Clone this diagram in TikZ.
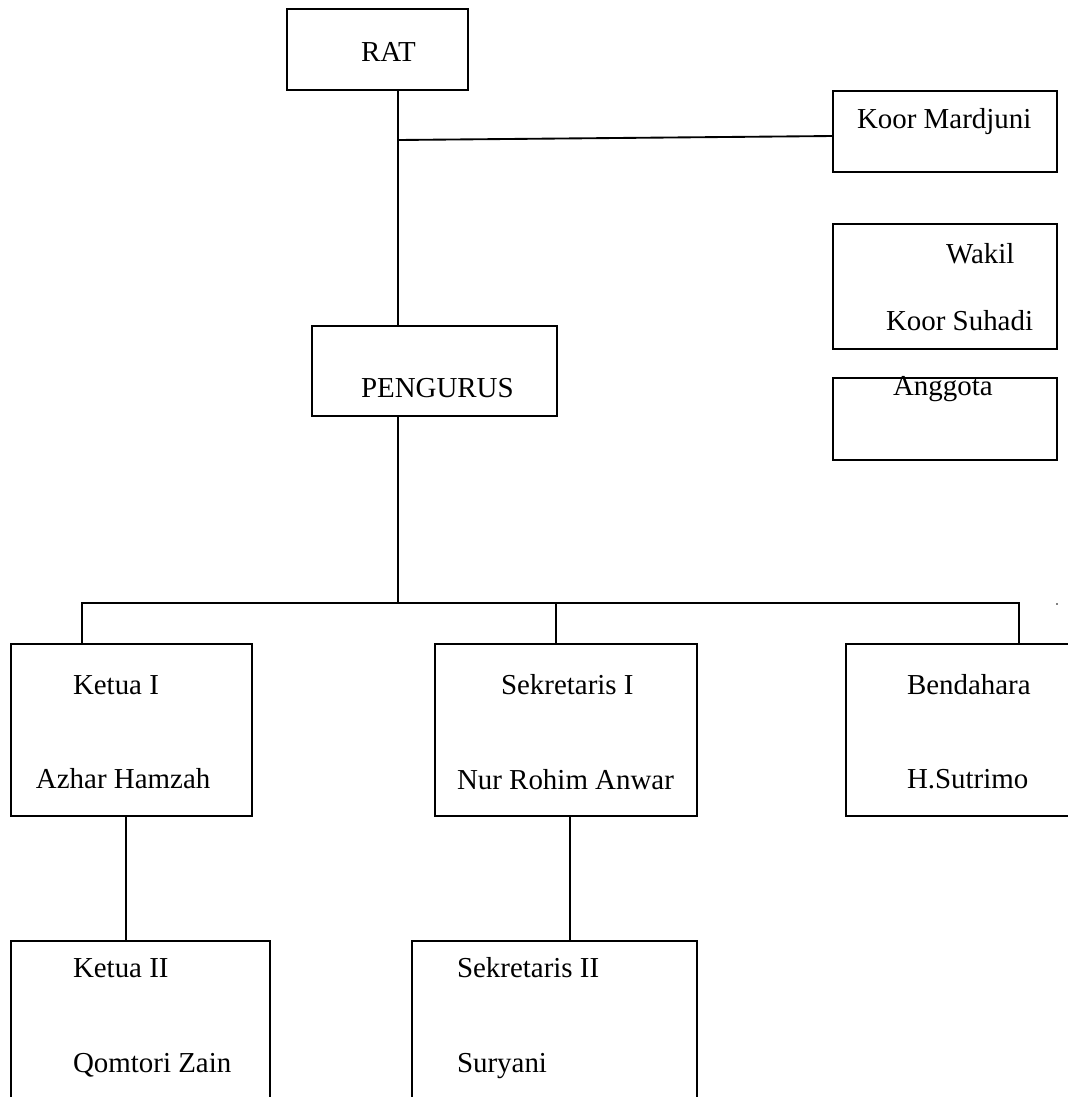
\documentclass[tikz,border=0pt]{standalone}
\usepackage{fontspec}
\setmainfont{Liberation Serif}
\usetikzlibrary{fit,calc}
\begin{document}
\begin{tikzpicture}[x=0.75pt,y=-0.75pt,
  box/.style={draw,line width=1.4pt,inner sep=0pt,outer sep=0pt},
  lbl/.style={inner sep=0pt,outer sep=0pt,anchor=base west,font=\fontsize{21.7}{26}\selectfont},
  conn/.style={line width=1.4pt}]
\useasboundingbox (0,0) rectangle (1068,1097);
\clip (0,0) rectangle (1068,1097);
% boxes
\node[box,fit={(287,9)(468,90)}] (rat) {};
\node[box,fit={(833,91)(1057,172)}] (koor) {};
\node[box,fit={(833,224)(1057,349)}] (wakil) {};
\node[box,fit={(833,378)(1057,460)}] (anggota) {};
\node[box,fit={(312,326)(557,416)}] (pengurus) {};
\node[box,fit={(11,644)(252,816)}] (ketua1) {};
\node[box,fit={(435,644)(697,816)}] (sek1) {};
\node[box,fit={(846,644)(1085,816)}] (bend) {};
\node[box,fit={(11,941)(270,1110)}] (ketua2) {};
\node[box,fit={(412,941)(697,1110)}] (sek2) {};
% labels
\node[lbl] (tRat) at (361,61) {RAT};
\node[lbl] (tKoor) at (857,128) {Koor Mardjuni};
\node[lbl] (tWakil) at (946,263) {Wakil};
\node[lbl] (tSuhadi) at (886,330) {Koor Suhadi};
\node[lbl] (tAnggota) at (893,395) {Anggota};
\node[lbl] (tPeng) at (361,397) {PENGURUS};
\node[lbl] (tK1) at (73,694) {Ketua I};
\node[lbl] (tK1n) at (36,788) {Azhar Hamzah};
\node[lbl] (tS1) at (501,694) {Sekretaris I};
\node[lbl] (tS1n) at (457,789) {Nur Rohim Anwar};
\node[lbl] (tB) at (907,694) {Bendahara};
\node[lbl] (tBn) at (907,788) {H.Sutrimo};
\node[lbl] (tK2) at (73,977) {Ketua II};
\node[lbl] (tK2n) at (73,1072) {Qomtori Zain};
\node[lbl] (tS2) at (457,977) {Sekretaris II};
\node[lbl] (tS2n) at (457,1072) {Suryani};
% connectors
\coordinate (j1) at (398,140);
\coordinate (bus) at (398,603);
\coordinate (bl) at (82,603);
\coordinate (bm) at (556,603);
\coordinate (br) at (1019,603);
\draw[conn] (rat.south -| j1) -- (pengurus.north -| j1);
\draw[conn] (j1) -- ($(koor.west)+(0,4.5)$);
\draw[conn] (pengurus.south -| bus) -- (bus);
\draw[conn] (bl |- ketua1.north) -- (bl) -- (br) -- (br |- bend.north);
\draw[conn] (bm) -- (bm |- sek1.north);
\draw[conn] ($(ketua1.south west)+(115,0)$) -- ($(ketua2.north west)+(115,0)$);
\draw[conn] ($(sek1.south west)+(135,0)$) -- ($(sek2.north west)+(158,0)$);
\fill (1057,604) circle (0.9);
\end{tikzpicture}
\end{document}
